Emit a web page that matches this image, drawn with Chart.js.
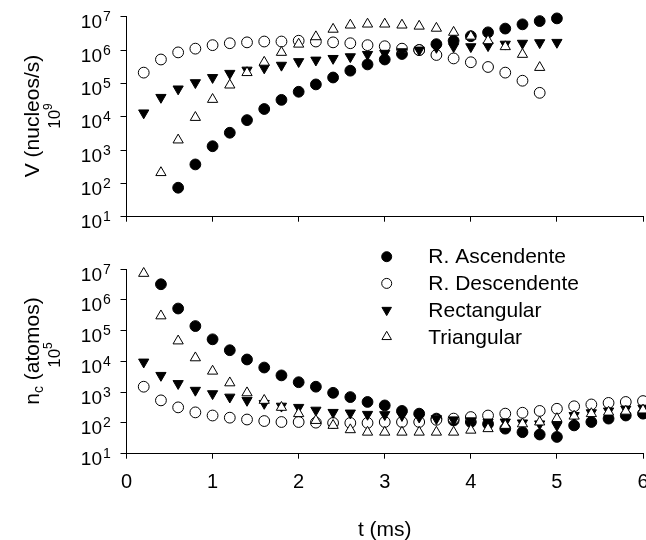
<!DOCTYPE html>
<html>
<head>
<meta charset="utf-8">
<script src="https://cdn.jsdelivr.net/npm/chart.js@4.4.1/dist/chart.umd.min.js"></script>
<style>
html, body { margin: 0; padding: 0; background: #fff; overflow: hidden; }
#wrap { position: relative; width: 646px; height: 540px; font-family: "Liberation Sans", Arial, sans-serif; color: #000; }
canvas { position: absolute; left: 0; }
#topChart { top: 0; }
#botChart { top: 240px; }
.ytitle { position: absolute; white-space: nowrap; line-height: 1; transform: translate(-50%, -50%) rotate(-90deg); }
.l1 { font-size: 21px; }
.l2 { font-size: 17px; }
.ytitle sup { font-size: 12px; position: relative; top: -8px; vertical-align: baseline; }
.ytitle sub { font-size: 14px; position: relative; top: 4px; vertical-align: baseline; }
</style>
</head>
<body>
<div id="wrap">
  <canvas id="topChart" width="646" height="240"></canvas>
  <canvas id="botChart" width="646" height="300"></canvas>
  <div class="ytitle l1" style="left:31px; top:116px;">V (nucleos/s)</div>
  <div class="ytitle l2" style="left:54px; top:116px;">10<sup>9</sup></div>
  <div class="ytitle l1" style="left:31px; top:351px;">n<sub>c</sub> (atomos)</div>
  <div class="ytitle l2" style="left:54px; top:355px;">10<sup>5</sup></div>
</div>
<script>
// series names
const seriesNames = ['R. Ascendente', 'R. Descendente', 'Rectangular', 'Triangular'];

// tiempos (ms)
const tTop = [0.2, 0.4, 0.6, 0.8, 1.0, 1.2, 1.4, 1.6, 1.8, 2.0, 2.2, 2.4, 2.6, 2.8, 3.0,
              3.2, 3.4, 3.6, 3.8, 4.0, 4.2, 4.4, 4.6, 4.8, 5.0];
const tBot = [0.2, 0.4, 0.6, 0.8, 1.0, 1.2, 1.4, 1.6, 1.8, 2.0, 2.2, 2.4, 2.6, 2.8, 3.0,
              3.2, 3.4, 3.6, 3.8, 4.0, 4.2, 4.4, 4.6, 4.8, 5.0, 5.2, 5.4, 5.6, 5.8, 6.0];

// V (nucleos/s) x 10^9
const ascTop = [null, null, 74, 370, 1300, 3300, 7900, 17000, 32000, 56000, 93000, 150000,
                240000, 370000, 520000, 760000, 1000000, 1500000, 1900000, 2600000, 3400000,
                4400000, 5900000, 7400000, 8900000];
const descTop = [210000, 520000, 850000, 1100000, 1400000, 1600000, 1700000, 1800000, 1800000,
                 1900000, 1800000, 1700000, 1600000, 1400000, 1300000, 1100000, 1000000, 710000,
                 560000, 430000, 310000, 210000, 120000, 52000, null];
const rectTop = [13000, 38000, 68000, 105000, 150000, 200000, 250000, 290000, 350000, 450000,
                 500000, 560000, 630000, 740000, 800000, 890000, 1000000, 1200000, 1260000,
                 1260000, 1350000, 1500000, 1600000, 1660000, 1700000];
const triTop = [null, 210, 2000, 9500, 33000, 89000, 210000, 430000, 850000, 1500000, 2500000,
                4200000, 5600000, 6000000, 6000000, 5600000, 5200000, 4500000, 3400000, 2600000,
                1900000, 1260000, 740000, 300000, null];

// n_c (atomos) x 10^5
const ascBot = [null, 3200000, 520000, 140000, 52000, 23000, 11500, 6300, 3500, 2100, 1500, 950,
                690, 480, 370, 245, 200, 138, 120, 107, 93, 65, 50, 42, 35, 83, 107, 138, 174, 200];
const descBot = [1500, 540, 320, 220, 174, 148, 129, 115, 107, 107, 102, 100, 100, 100, 107, 107,
                 107, 126, 138, 155, 174, 200, 214, 245, 288, 347, 398, 447, 479, 513];
const rectBot = [9500, 3500, 1900, 1150, 890, 690, 540, 430, 350, 320, 260, 220, 210, 190, 186,
                 174, 155, 138, 126, 117, 107, 107, 100, 93, 83, 174, 214, 245, 282, 302];
const triBot = [7200000, 300000, 46000, 13000, 4800, 2000, 950, 540, 320, 200, 120, 83, 60, 50,
                50, 50, 50, 50, 50, 58, 65, 83, 93, 107, 138, 166, 200, 224, 240, 263];

// ticks
const xTicks = [0, 1, 2, 3, 4, 5, 6];
const xTickLabels = ['0', '1', '2', '3', '4', '5', '6'];
const yTicks = [1e1, 1e2, 1e3, 1e4, 1e5, 1e6, 1e7];
const yTickExponents = ['1', '2', '3', '4', '5', '6', '7'];

const FONT = '"Liberation Sans", Arial, sans-serif';
Chart.defaults.font.family = FONT;
Chart.defaults.color = '#000';

// marcadores
const markerStyles = [
    { pointStyle: 'circle', pointRotation: 0, backgroundColor: '#000', borderColor: '#000', radius: 5.4 },
    { pointStyle: 'circle', pointRotation: 0, backgroundColor: '#fff', borderColor: '#000', radius: 5.4 },
    { pointStyle: 'triangle', pointRotation: 180, backgroundColor: '#000', borderColor: '#000', radius: 5.9 },
    { pointStyle: 'triangle', pointRotation: 0, backgroundColor: '#fff', borderColor: '#000', radius: 5.9 }
];

function toPoints(ts, values) {
    return ts.map((t, i) => ({ x: t, y: values[i] })).filter(p => p.y !== null);
}

function buildDatasets(ts, seriesList) {
    return seriesList.map((values, i) => {
        const m = markerStyles[i];
        return {
            label: seriesNames[i],
            data: toPoints(ts, values),
            pointStyle: m.pointStyle,
            pointRotation: m.pointRotation,
            backgroundColor: m.backgroundColor,
            borderColor: m.borderColor,
            borderWidth: 1,
            pointRadius: m.radius,
            pointHoverRadius: m.radius,
            order: seriesList.length - i,
            clip: false
        };
    });
}

function yScale() {
    return {
        type: 'logarithmic',
        min: 10,
        max: 1e7,
        afterBuildTicks: s => { s.ticks = yTicks.map(v => ({ value: v })); },
        afterFit: s => { s.width = 126.5; s.paddingTop = 0; s.paddingBottom = 0; },
        // etiquetas 10^n dibujadas por el plugin powerLabels
        ticks: { display: false, autoSkip: false },
        grid: { drawOnChartArea: false, color: '#000', tickLength: 6, lineWidth: 1 },
        border: { color: '#000', width: 1 }
    };
}

function xScale(withLabels, height) {
    return {
        type: 'linear',
        min: 0,
        max: 6,
        afterBuildTicks: s => { s.ticks = xTicks.map(v => ({ value: v })); },
        afterFit: s => { s.height = height; s.paddingLeft = 0; s.paddingRight = 0; },
        ticks: {
            display: withLabels,
            autoSkip: false,
            maxRotation: 0,
            font: { size: 20 },
            color: '#000',
            padding: 12,
            callback: (v) => xTickLabels[xTicks.indexOf(v)]
        },
        grid: { drawOnChartArea: false, color: '#000', tickLength: 5, lineWidth: 1 },
        border: { color: '#000', width: 1 },
        title: {
            display: withLabels,
            text: 't (ms)',
            font: { size: 21 },
            color: '#000',
            padding: { top: 0, bottom: -3 }
        }
    };
}

// etiquetas del eje y con exponente en superindice
const powerLabels = {
    id: 'powerLabels',
    afterDraw(chart) {
        const ctx = chart.ctx;
        const scale = chart.scales.y;
        ctx.save();
        ctx.fillStyle = '#000';
        ctx.textBaseline = 'alphabetic';
        yTicks.forEach((v, i) => {
            const py = scale.getPixelForValue(v);
            ctx.font = '19px ' + FONT;
            ctx.textAlign = 'right';
            ctx.fillText('10', 102, py + 11.5);
            ctx.font = '14px ' + FONT;
            ctx.textAlign = 'left';
            ctx.fillText(yTickExponents[i], 103, py + 4.5);
        });
        ctx.restore();
    }
};

// leyenda dentro del panel inferior
const markerLegend = {
    id: 'markerLegend',
    afterDraw(chart) {
        const ctx = chart.ctx;
        ctx.save();
        seriesNames.forEach((name, i) => {
            const m = markerStyles[i];
            const y = 16.7 + i * 26.7;
            ctx.fillStyle = m.backgroundColor;
            ctx.strokeStyle = m.borderColor;
            ctx.lineWidth = 1;
            Chart.helpers.drawPoint(ctx, {
                pointStyle: m.pointStyle,
                rotation: m.pointRotation,
                radius: m.radius - 0.4,
                borderWidth: 1
            }, 386.7, y);
            ctx.fillStyle = '#000';
            ctx.font = '21px ' + FONT;
            ctx.textBaseline = 'middle';
            ctx.textAlign = 'left';
            ctx.fillText(name, 428.3, y + 1);
        });
        ctx.restore();
    }
};

function commonOptions(padTop, xs, ys) {
    return {
        responsive: false,
        animation: false,
        devicePixelRatio: 1,
        events: [],
        layout: { autoPadding: false, padding: { left: 0, right: 3, top: padTop, bottom: 0 } },
        plugins: { legend: { display: false }, tooltip: { enabled: false } },
        scales: { x: xs, y: ys }
    };
}

new Chart(document.getElementById('topChart'), {
    type: 'scatter',
    data: { datasets: buildDatasets(tTop, [ascTop, descTop, rectTop, triTop]) },
    options: commonOptions(16.7, xScale(false, 240 - 216.7), yScale()),
    plugins: [powerLabels]
});

new Chart(document.getElementById('botChart'), {
    type: 'scatter',
    data: { datasets: buildDatasets(tBot, [ascBot, descBot, rectBot, triBot]) },
    options: commonOptions(29, xScale(true, 300 - 213.7), yScale()),
    plugins: [powerLabels, markerLegend]
});
</script>
</body>
</html>
